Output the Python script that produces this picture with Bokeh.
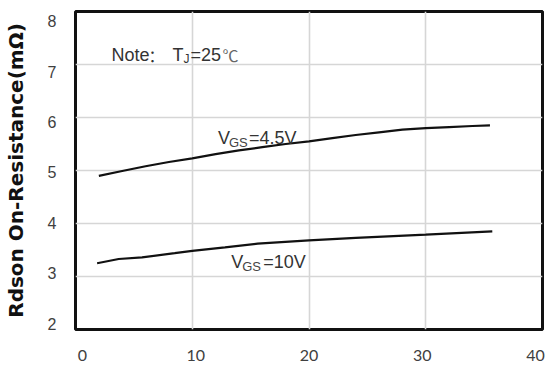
from bokeh.plotting import figure
from bokeh.models import Range1d, FixedTicker, ColumnDataSource
from bokeh.embed import file_html
from bokeh.resources import INLINE

# ---- data ----
vds_45 = [2, 4, 6, 8, 10, 12, 14, 16, 18, 20, 22, 24, 26, 28, 30, 32, 34, 35.5]
rds_45 = [4.90, 4.99, 5.08, 5.16, 5.23, 5.31, 5.38, 5.44, 5.50, 5.55, 5.61, 5.67,
          5.72, 5.77, 5.80, 5.82, 5.84, 5.85]

vds_10 = [1.85, 3.7, 5.7, 8.5, 10, 12.8, 15.6, 20, 24, 30, 35.7]
rds_10 = [3.25, 3.33, 3.36, 3.44, 3.485, 3.55, 3.62, 3.68, 3.73, 3.79, 3.85]

x_ticks = [0, 10, 20, 30, 40]
y_ticks = [2, 3, 4, 5, 6, 7, 8]
x_grid = [10, 20, 30]
y_grid = [3, 4, 5, 6, 7]
y_title = "Rdson On-Resistance(mΩ)"

# annotation pieces (text with subscripts)
ann_text = ["Note", "：", "T", "J", "=25", "℃",
            "V", "GS", "=4.5V",
            "V", "GS", "=10V"]
ann_x = [3.09] * 6 + [12.2] * 3 + [13.34] * 3
ann_y = [7.18] * 6 + [5.61] * 3 + [3.27] * 3
ann_dx = [0, 37, 61, 72, 79, 111, 0, 11, 31, 0, 11, 32]
ann_dy = [0, 0, 0, 4, 0, 0, 0, 4, 0, 0, 4, 0]
ann_size = ["18px", "16px", "18px", "12px", "18px", "16px",
            "18px", "13px", "18px", "18px", "13px", "18px"]
ann_font = ["Liberation Sans", "Noto Sans CJK SC", "Liberation Sans", "Liberation Sans",
            "Liberation Sans", "Noto Sans CJK SC",
            "Liberation Sans", "Liberation Sans", "Liberation Sans",
            "Liberation Sans", "Liberation Sans", "Liberation Sans"]
ann_color = ["#333333", "#333333", "#333333", "#333333", "#333333", "#666666",
             "#333333", "#444444", "#333333", "#333333", "#444444", "#333333"]

# ---- figure ----
p = figure(width=545, height=369, output_backend="svg", toolbar_location=None,
           x_range=Range1d(-0.615, 40.615), y_range=Range1d(1.885, 8.19),
           min_border_left=73, min_border_right=3, min_border_top=11,
           min_border_bottom=40)
p.extra_x_ranges = {"data": Range1d(0, 40)}
p.extra_y_ranges = {"data": Range1d(2, 8)}

p.background_fill_color = "white"
p.border_fill_color = "white"
p.outline_line_color = "#111111"
p.outline_line_width = 3

# grids on data ranges
p.xgrid.x_range_name = "data"
p.xgrid.ticker = FixedTicker(ticks=x_grid)
p.ygrid.y_range_name = "data"
p.ygrid.ticker = FixedTicker(ticks=y_grid)
for g in (p.xgrid, p.ygrid):
    g.grid_line_color = "#d6d6d6"
    g.grid_line_width = 1.6

# axes (tick labels)
p.xaxis.ticker = FixedTicker(ticks=x_ticks)
p.yaxis.ticker = FixedTicker(ticks=y_ticks)
for ax in (p.xaxis, p.yaxis):
    ax.axis_line_color = None
    ax.major_tick_line_color = None
    ax.minor_tick_line_color = None
    ax.major_tick_out = 0
    ax.major_tick_in = 0

p.xaxis.major_label_text_font = "Lato"
p.xaxis.major_label_text_font_size = "16px"
p.xaxis.major_label_text_color = "#404040"
p.xaxis.major_label_standoff = 20

p.yaxis.major_label_text_font = "Liberation Sans"
p.yaxis.major_label_text_font_size = "16px"
p.yaxis.major_label_text_color = "#404040"
p.yaxis.major_label_standoff = 19
p.yaxis.axis_label = y_title
p.yaxis.axis_label_text_font = "DejaVu Sans"
p.yaxis.axis_label_text_font_style = "bold"
p.yaxis.axis_label_text_font_size = "20px"
p.yaxis.axis_label_text_color = "#111111"
p.yaxis.axis_label_standoff = 17

# curves
p.line(vds_45, rds_45, x_range_name="data", y_range_name="data",
       line_width=2.2, line_color="#111111")
p.line(vds_10, rds_10, x_range_name="data", y_range_name="data",
       line_width=2.2, line_color="#111111")

# annotations
src = ColumnDataSource(dict(x=ann_x, y=ann_y, text=ann_text, dx=ann_dx, dy=ann_dy,
                            size=ann_size, font=ann_font, color=ann_color))
p.text(x="x", y="y", text="text", x_offset="dx", y_offset="dy",
       text_font_size="size", text_font="font", text_color="color",
       text_align="left", text_baseline="alphabetic", source=src,
       x_range_name="data", y_range_name="data")

open("out.html", "w").write(file_html(p, INLINE))
